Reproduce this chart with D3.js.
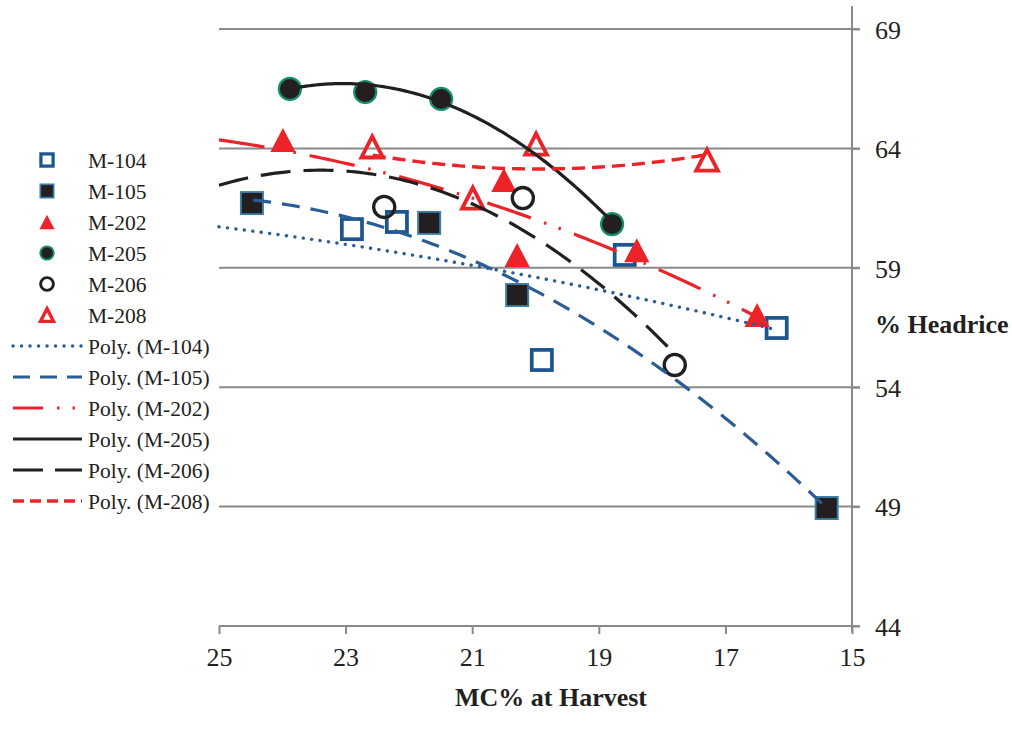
<!DOCTYPE html>
<html><head><meta charset="utf-8">
<script src="https://cdn.jsdelivr.net/npm/d3@7"></script>
<style>
body{margin:0;background:#fff}
svg{display:block}
text{font-family:"Liberation Serif","Times New Roman",serif;fill:#231f20}
</style>
</head><body>
<svg id="c" width="1012" height="746"></svg>
<script>
// ---- data ----
const xTicks = [25, 23, 21, 19, 17, 15];
const yTicks = [44, 49, 54, 59, 64, 69];
const seriesNames = ["M-104", "M-105", "M-202", "M-205", "M-206", "M-208"];

const m104X = [22.90, 22.19, 19.90, 18.59, 16.19];
const m104Y = [60.62, 60.92, 55.14, 59.54, 56.48];
const m105X = [24.48, 21.68, 20.29, 15.40];
const m105Y = [61.71, 60.88, 57.86, 48.94];
const m202X = [23.99, 20.50, 20.29, 18.40, 16.50];
const m202Y = [64.35, 62.68, 59.54, 59.74, 57.02];
const m205X = [23.88, 22.69, 21.49, 18.79];
const m205Y = [66.49, 66.36, 66.07, 60.83];
const m206X = [22.39, 20.20, 17.80];
const m206Y = [61.55, 61.92, 54.93];
const m208X = [22.58, 20.99, 19.99, 17.29];
const m208Y = [64.06, 61.92, 64.18, 63.51];

// polynomial (order 2) trend lines: three points read on each drawn curve, and its x extent
const trend104 = {px: [24.98, 20.77, 16.19], py: [60.71, 58.99, 56.40], from: 25, to: 16.19};
const trend105 = {px: [24.46, 19.82, 15.40], py: [61.84, 57.78, 48.94], from: 24.46, to: 15.40};
const trend202 = {px: [24.98, 21.30, 16.50], py: [64.35, 62.17, 56.94], from: 25, to: 16.50};
const trend205 = {px: [23.88, 20.77, 18.79], py: [66.49, 65.06, 60.92], from: 23.88, to: 18.79};
const trend206 = {px: [24.98, 21.56, 17.83], py: [62.47, 62.26, 55.47], from: 25, to: 17.83};
const trend208 = {px: [22.57, 19.82, 17.72], py: [63.72, 63.14, 63.56], from: 22.57, to: 17.29};

// ---- drawing ----
const svg = d3.select("#c");
const x = d3.scaleLinear().domain([25, 15]).range([219, 852]);
const y = d3.scaleLinear().domain([44, 69]).range([626, 29]);
const GRID = "#8a8a8a";
const BLUE = "#1d5591", BLUE2 = "#2c5c96", STEEL = "#3c7ea6";
const RED = "#ec2329", BLK = "#231f20", GREEN = "#14906b";

// gridlines
svg.append("g").selectAll("line").data(yTicks).join("line")
  .attr("x1", x(25)).attr("x2", 860).attr("y1", d => y(d)).attr("y2", d => y(d))
  .attr("stroke", GRID).attr("stroke-width", 2);
// right axis line
svg.append("line").attr("x1", x(15)).attr("x2", x(15)).attr("y1", 6).attr("y2", 632)
  .attr("stroke", GRID).attr("stroke-width", 2);

const yAxis = svg.append("g").attr("transform", `translate(${x(15)},0)`)
  .call(d3.axisRight(y).tickValues(yTicks).tickSize(8).tickPadding(15).tickFormat(d3.format("d")));
yAxis.select(".domain").remove();
yAxis.selectAll("line").attr("stroke", GRID).attr("stroke-width", 2);
yAxis.selectAll("text").attr("font-size", 26).attr("dy", "0.36em")
  .style("font-family", '"Liberation Serif",serif').attr("fill", BLK);

const xAxis = svg.append("g").attr("transform", `translate(0,${y(44)})`)
  .call(d3.axisBottom(x).tickValues(xTicks).tickSize(8).tickPadding(14).tickFormat(d3.format("d")));
xAxis.select(".domain").remove();
xAxis.selectAll("line").attr("stroke", GRID).attr("stroke-width", 2);
xAxis.selectAll("text").attr("font-size", 26)
  .style("font-family", '"Liberation Serif",serif').attr("fill", BLK);

svg.append("text").attr("x", 551).attr("y", 706).attr("text-anchor", "middle")
  .attr("font-size", 26).attr("font-weight", "bold").text("MC% at Harvest");
svg.append("text").attr("x", 875).attr("y", 333)
  .attr("font-size", 26).attr("font-weight", "bold").text("% Headrice");

// marker shapes (s = size, k = stroke multiplier)
function triPath(w, h) {
  return `M0,${-h / 2}L${w / 2},${h / 2}L${-w / 2},${h / 2}Z`;
}
const markerStyles = {
  "M-104": (g, s, k) => g.append("rect").attr("x", -s * 0.42).attr("y", -s * 0.42).attr("width", s * 0.84).attr("height", s * 0.84)
              .attr("fill", "none").attr("stroke", BLUE).attr("stroke-width", s * 0.155 * k),
  "M-105": (g, s, k) => g.append("rect").attr("x", -s * 0.46).attr("y", -s * 0.46).attr("width", s * 0.92).attr("height", s * 0.92)
              .attr("fill", BLK).attr("stroke", STEEL).attr("stroke-width", s * 0.08 * k),
  "M-202": (g, s, k) => g.append("path").attr("d", triPath(s * 1.05, s * 1.0)).attr("fill", RED),
  "M-205": (g, s, k) => g.append("circle").attr("r", s * 0.46).attr("fill", BLK).attr("stroke", GREEN).attr("stroke-width", s * 0.09 * k),
  "M-206": (g, s, k) => g.append("circle").attr("r", s * 0.44).attr("fill", "none").attr("stroke", BLK).attr("stroke-width", s * 0.14 * k),
  "M-208": (g, s, k) => g.append("path").attr("d", triPath(s * 0.9, s * 0.88)).attr("fill", "none").attr("stroke", RED)
              .attr("stroke-width", s * 0.16 * k).attr("stroke-linejoin", "miter")
};

const seriesData = {
  "M-104": [m104X, m104Y], "M-105": [m105X, m105Y], "M-202": [m202X, m202Y],
  "M-205": [m205X, m205Y], "M-206": [m206X, m206Y], "M-208": [m208X, m208Y]
};
const trendStyles = {
  "M-104": {t: trend104, color: BLUE2, dash: "0.1,8.4", cap: "round", w: 3.4, legDash: "0.1,8.4"},
  "M-105": {t: trend105, color: BLUE2, dash: "18,11", cap: "butt", w: 3.2, legDash: "17,10"},
  "M-202": {t: trend202, color: RED, dash: "46,14,2.5,13,2.5,14", cap: "butt", w: 3.2, legDash: "30,14,2.5,13,2.5,13"},
  "M-205": {t: trend205, color: BLK, dash: null, cap: "butt", w: 3.2, legDash: null},
  "M-206": {t: trend206, color: BLK, dash: "30,13", cap: "butt", w: 3.2, legDash: "30,12"},
  "M-208": {t: trend208, color: RED, dash: "13,7", cap: "butt", w: 3.4, legDash: "11,6"}
};

// markers
const markG = svg.append("g");
seriesNames.forEach(name => {
  const [xs, ys] = seriesData[name];
  xs.forEach((xv, i) => {
    const g = markG.append("g").attr("transform", `translate(${x(xv)},${y(ys[i])})`);
    markerStyles[name](g, 24, 1);
  });
});

// trend lines (order-2 polynomial through the readings), drawn above markers
function quad(t) {
  const [x0, x1, x2] = t.px, [y0, y1, y2] = t.py;
  return v => y0 * (v - x1) * (v - x2) / ((x0 - x1) * (x0 - x2))
            + y1 * (v - x0) * (v - x2) / ((x1 - x0) * (x1 - x2))
            + y2 * (v - x0) * (v - x1) / ((x2 - x0) * (x2 - x1));
}
const line = d3.line().x(d => x(d[0])).y(d => y(d[1]));
const trendG = svg.append("g");
seriesNames.forEach(name => {
  const st = trendStyles[name];
  const f = quad(st.t);
  const pts = d3.range(0, 101).map(k => {
    const v = st.t.from + (st.t.to - st.t.from) * k / 100;
    return [v, f(v)];
  });
  trendG.append("path").attr("d", line(pts)).attr("fill", "none")
    .attr("stroke", st.color).attr("stroke-width", st.w)
    .attr("stroke-dasharray", st.dash).attr("stroke-linecap", st.cap);
});

// legend
const legG = svg.append("g");
const rowY = i => 160 + i * 31;
seriesNames.forEach((name, i) => {
  const g = legG.append("g").attr("transform", `translate(47,${rowY(i)})`);
  markerStyles[name](g, 14.5, 1.45);
  legG.append("text").attr("x", 88).attr("y", rowY(i)).attr("dy", "0.35em")
    .attr("font-size", 21.5).text(name);
});
seriesNames.forEach((name, i) => {
  const st = trendStyles[name];
  const yy = rowY(i + 6);
  legG.append("line").attr("x1", 13).attr("x2", 82).attr("y1", yy).attr("y2", yy)
    .attr("stroke", st.color).attr("stroke-width", st.w)
    .attr("stroke-dasharray", st.legDash).attr("stroke-linecap", st.cap);
  legG.append("text").attr("x", 88).attr("y", yy).attr("dy", "0.35em")
    .attr("font-size", 21.5).text(`Poly. (${name})`);
});
</script>
</body></html>
